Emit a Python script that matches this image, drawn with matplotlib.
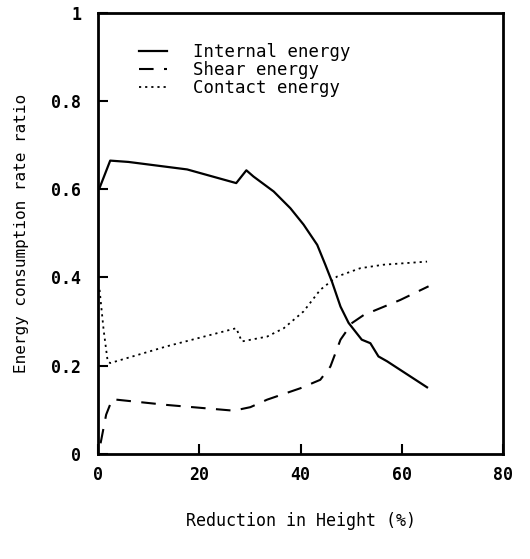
import matplotlib
matplotlib.use('Agg')
import matplotlib.pyplot as plt

# data
internal_x = [0.3, 2.4, 6.0, 17.6, 27.3, 29.3, 30.7, 34.7, 38.0, 40.6, 43.3, 44.9, 46.2, 47.9, 49.5, 52.1, 53.8, 55.4, 57.1, 65.0]
internal_y = [0.603, 0.665, 0.662, 0.645, 0.614, 0.643, 0.629, 0.595, 0.557, 0.520, 0.474, 0.429, 0.391, 0.334, 0.297, 0.259, 0.251, 0.221, 0.210, 0.151]

shear_x = [0.5, 1.6, 2.8, 13.6, 26.8, 30.1, 33.4, 40.0, 43.9, 45.9, 47.9, 50.2, 52.5, 59.7, 65.3]
shear_y = [0.024, 0.089, 0.124, 0.111, 0.098, 0.106, 0.123, 0.149, 0.168, 0.198, 0.259, 0.297, 0.315, 0.349, 0.380]

contact_x = [0.3, 1.1, 1.9, 2.4, 13.6, 27.3, 28.4, 33.4, 36.7, 40.6, 43.9, 47.2, 51.8, 56.4, 65.0]
contact_y = [0.372, 0.281, 0.210, 0.206, 0.244, 0.285, 0.255, 0.266, 0.285, 0.323, 0.372, 0.402, 0.421, 0.429, 0.436]

xticks = [0, 20, 40, 60, 80]
yticks = [0, 0.2, 0.4, 0.6, 0.8, 1]
ytick_labels = ['0', '0.2', '0.4', '0.6', '0.8', '1']

plt.rcParams['font.family'] = ['DejaVu Sans Mono']

fig = plt.figure(figsize=(5.3, 5.59), dpi=100)
ax = fig.add_axes([0.185, 0.188, 0.764, 0.789])

ax.plot(internal_x, internal_y, color='black', lw=1.6, label='Internal energy')
ax.plot(shear_x, shear_y, color='black', lw=1.5, dashes=(7, 5), label='Shear energy')
ax.plot(contact_x, contact_y, color='black', lw=1.3, dashes=(1.2, 2.2), label='Contact energy')

ax.set_xlim(0, 80)
ax.set_ylim(0, 1)
ax.set_xticks(xticks)
ax.set_xticklabels([str(t) for t in xticks])
ax.set_yticks(yticks)
ax.set_yticklabels(ytick_labels)
ax.tick_params(direction='in', length=7, width=1.5, labelsize=12,
               top=False, right=False)
ax.tick_params(axis='y', pad=12)
ax.tick_params(axis='x', pad=9)
for lab in ax.get_xticklabels() + ax.get_yticklabels():
    lab.set_fontweight('bold')
for sp in ax.spines.values():
    sp.set_linewidth(2)

ax.set_xlabel('Reduction in Height (%)', fontsize=12, labelpad=20)
ax.set_ylabel('Energy consumption rate ratio', fontsize=11.5, labelpad=16)

ax.legend(loc='upper left', bbox_to_anchor=(0.062, 0.968), frameon=False,
          fontsize=12.5, handlelength=1.65, handletextpad=1.5, labelspacing=0.0)

fig.savefig('out.png', dpi=100)
